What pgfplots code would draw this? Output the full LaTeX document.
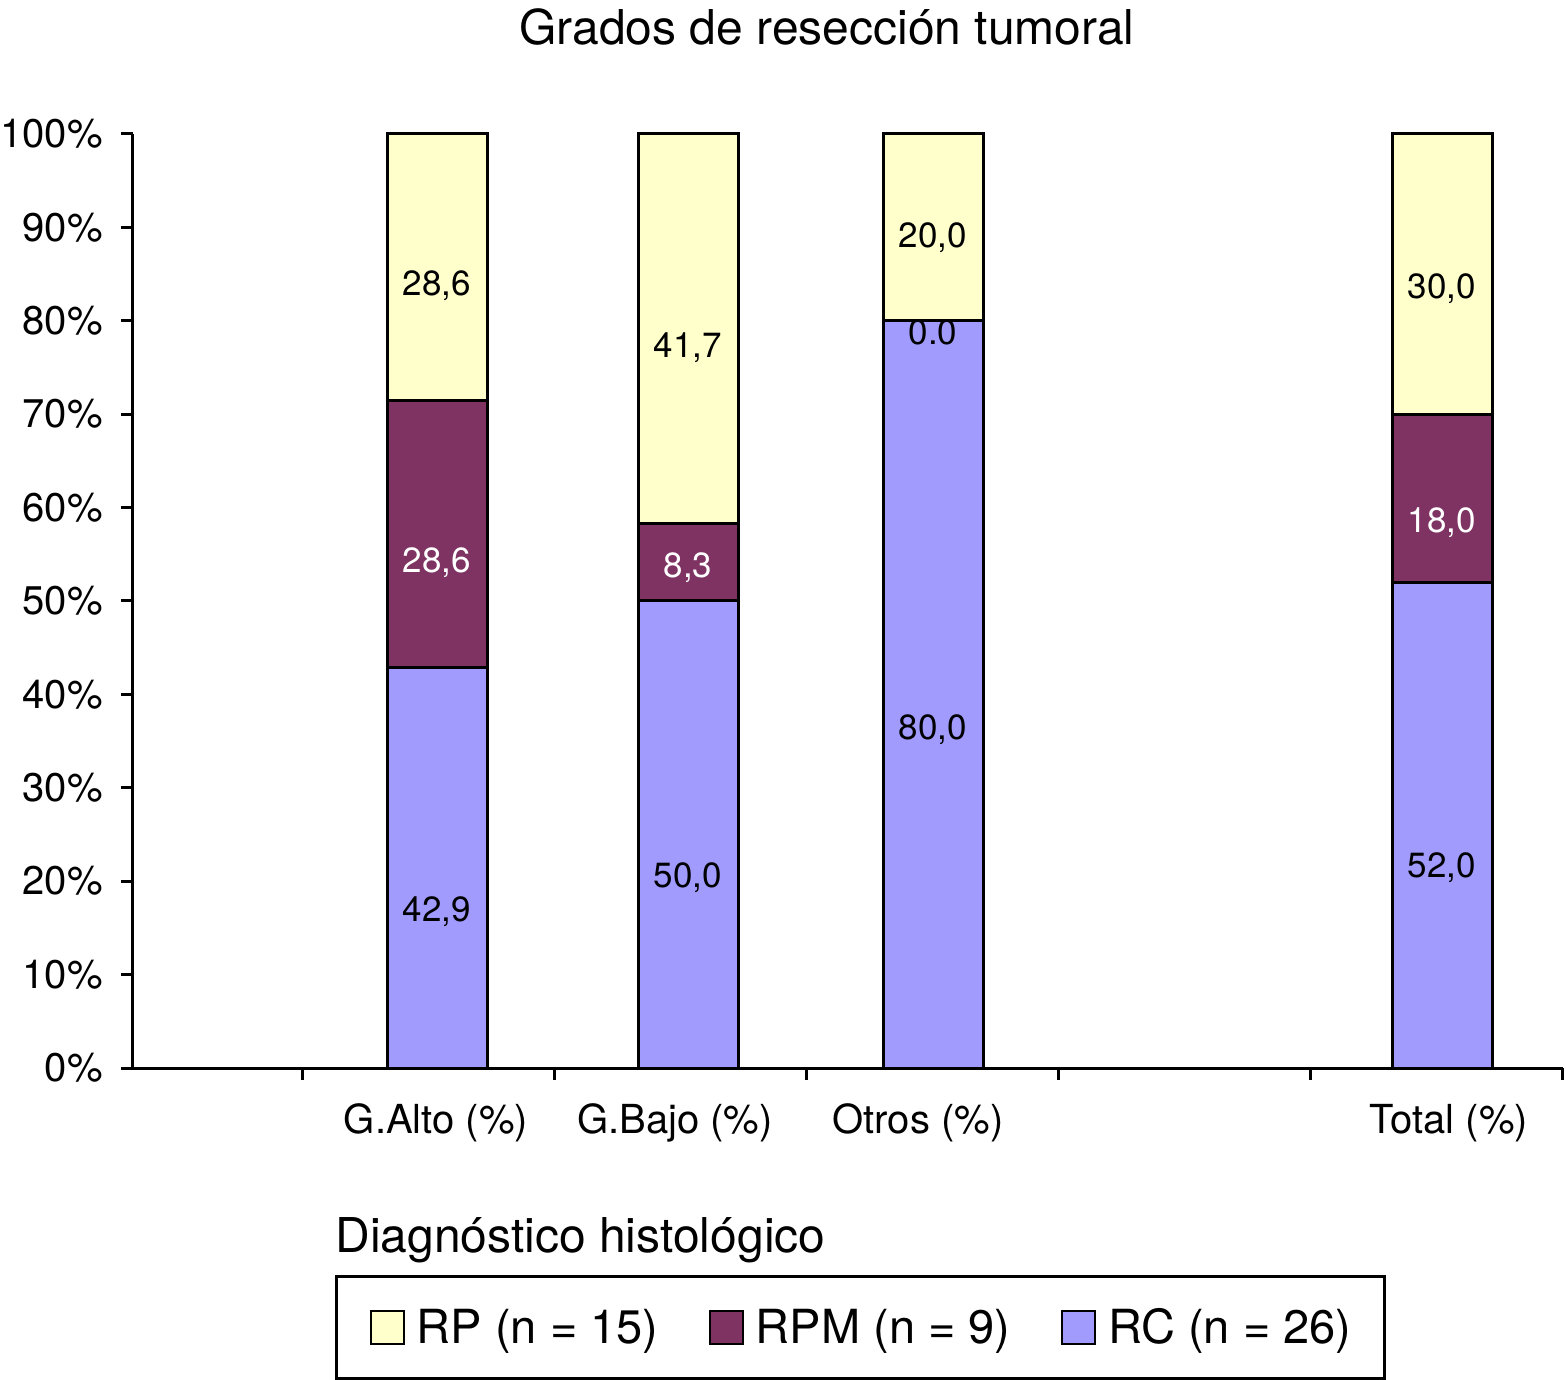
\documentclass[border=0pt]{standalone}
\usepackage{fontspec}
\setmainfont{TeX Gyre Heros}
\usepackage{pgfplots}
\pgfplotsset{compat=1.18}
\definecolor{cRP}{HTML}{FFFFCC}
\definecolor{cRPM}{HTML}{7E3362}
\definecolor{cRC}{HTML}{A09BFC}
\tikzset{dlab/.style={font=\fontsize{17.5}{20}\selectfont, inner sep=0pt}}
\begin{document}
\begin{tikzpicture}
\useasboundingbox (-66.5pt,-155.5pt) rectangle (716.5pt,534pt);
\begin{axis}[
  at={(0pt,0pt)}, anchor=south west,
  scale only axis, width=715pt, height=467pt,
  xmin=133, xmax=1563, ymin=0, ymax=100,
  ybar stacked, bar width=100,
  axis x line*=bottom, axis y line*=left,
  axis line style={line width=1.5pt, -},
  clip=false,
  ytick={0,10,...,100},
  yticklabels={0\%,10\%,20\%,30\%,40\%,50\%,60\%,70\%,80\%,90\%,100\%},
  minor ytick={0,10,...,100},
  xtick={436,675,918,1449},
  xticklabels={G.Alto (\%),G.Bajo (\%),Otros (\%),Total (\%)},
  minor xtick={302,554,806,1058,1310,1562},
  major tick length=0pt, minor tick length=6pt,
  tick align=outside,
  tick style={line width=1.5pt, black},
  ticklabel style={font=\fontsize{20}{24}\selectfont},
  yticklabel style={anchor=east, inner sep=0pt, xshift=-15pt},
  xticklabel style={anchor=base, inner sep=0pt, yshift=-32.5pt},
  legend columns=3,
  legend image code/.code={\draw[#1, line width=1.2pt] (0pt,-8.25pt) rectangle (16.5pt,8.25pt);},
  legend style={at={(0.1413,-0.2216)}, anchor=north west, draw=black,
    line width=1.5pt, inner xsep=16.5pt, inner ysep=16pt,
    nodes={inner sep=0pt},
    font=\fontsize{23.5}{28}\selectfont,
    /tikz/every odd column/.append style={column sep=6pt},
    /tikz/every even column/.append style={column sep=25pt}},
]
\addplot[fill=cRC, draw=black, line width=1.5pt, forget plot] coordinates {(437,42.9) (688,50.0) (933,80.0) (1442,52.0)};
\addplot[fill=cRPM, draw=black, line width=1.5pt, forget plot] coordinates {(437,28.6) (688,8.3) (933,0) (1442,18.0)};
\addplot[fill=cRP, draw=black, line width=1.5pt, forget plot] coordinates {(437,28.6) (688,41.7) (933,20.0) (1442,30.0)};
\addlegendimage{fill=cRP, draw=black}
\addlegendentry{RP (n = 15)}
\addlegendimage{fill=cRPM, draw=black}
\addlegendentry{RPM (n = 9)}
\addlegendimage{fill=cRC, draw=black}
\addlegendentry{RC (n = 26)}

\coordinate (a1) at (axis cs:437,16.7);
\coordinate (a2) at (axis cs:437,54.1);
\coordinate (a3) at (axis cs:437,83.8);
\coordinate (b1) at (axis cs:688,20.4);
\coordinate (b2) at (axis cs:688,53.6);
\coordinate (b3) at (axis cs:688,77.1);
\coordinate (c1) at (axis cs:933,36.2);
\coordinate (c2) at (axis cs:933,78.8);
\coordinate (c3) at (axis cs:933,88.9);
\coordinate (d1) at (axis cs:1442,21.4);
\coordinate (d2) at (axis cs:1442,58.4);
\coordinate (d3) at (axis cs:1442,83.4);

\node[anchor=base, font=\fontsize{24}{28}\selectfont, inner sep=0pt] at (axis description cs:0.4853,1.0953) {Grados de resección tumoral};
\node[anchor=base west, font=\fontsize{24}{28}\selectfont, inner sep=0pt] at (axis description cs:0.1413,-0.197) {Diagnóstico histológico};
\end{axis}
\node[dlab] at (a1) {42,9};
\node[dlab, text=white] at (a2) {28,6};
\node[dlab] at (a3) {28,6};
\node[dlab] at (b1) {50,0};
\node[dlab, text=white] at (b2) {8,3};
\node[dlab] at (b3) {41,7};
\node[dlab] at (c1) {80,0};
\node[dlab] at (c2) {0.0};
\node[dlab] at (c3) {20,0};
\node[dlab] at (d1) {52,0};
\node[dlab, text=white] at (d2) {18,0};
\node[dlab] at (d3) {30,0};
\end{tikzpicture}
\end{document}
